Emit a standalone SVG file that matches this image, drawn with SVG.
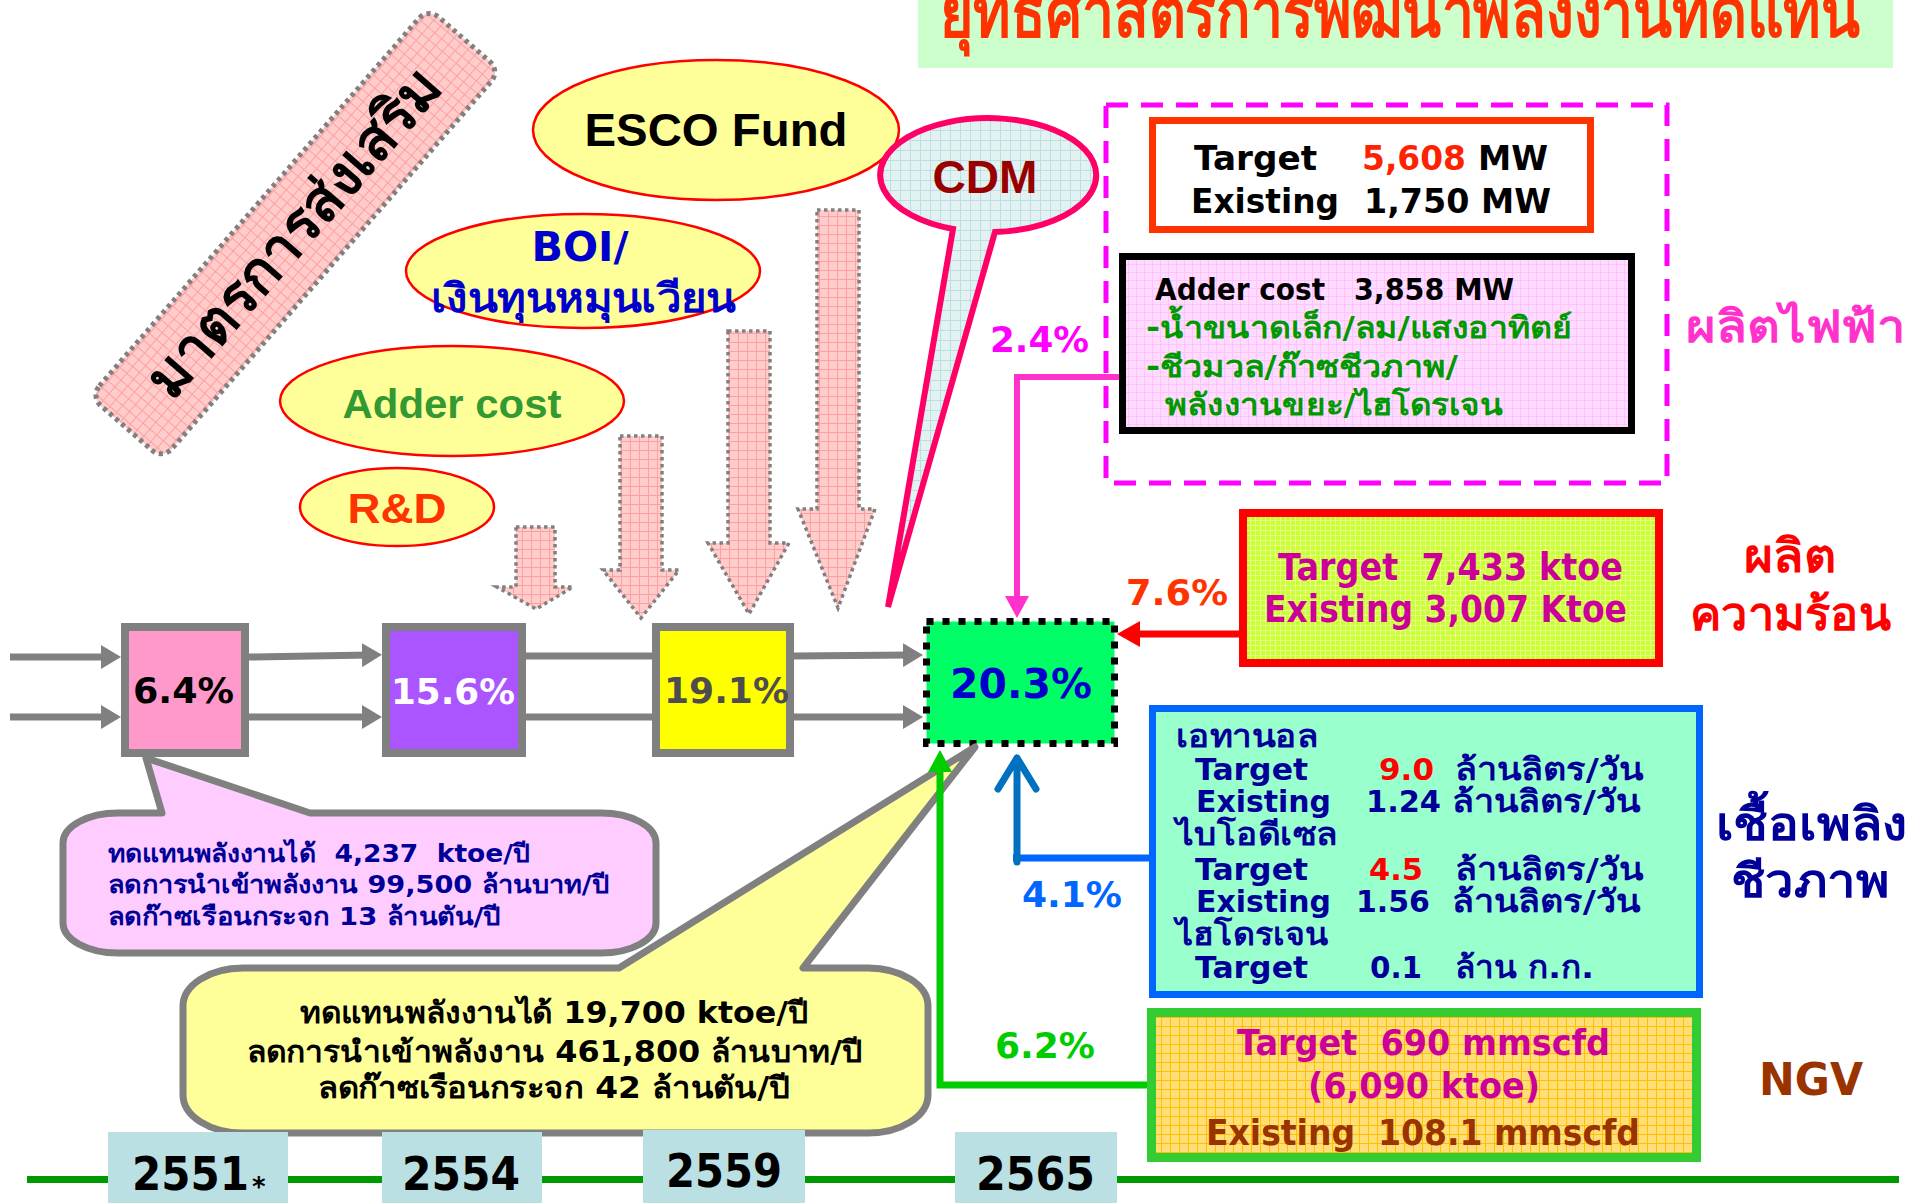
<svg xmlns="http://www.w3.org/2000/svg" width="1926" height="1203" viewBox="0 0 1926 1203">
<style>
.b{font-family:"DejaVu Sans","Noto Sans",sans-serif;font-weight:bold}
.a{font-family:"Liberation Sans",Arial,sans-serif;font-weight:bold}
.t{font-family:"DejaVu Sans","Noto Sans",sans-serif;font-weight:bold}
.pre{white-space:pre}
.flow{fill:none;stroke:#808080;stroke-width:7}
.pbox{stroke:#808080;stroke-width:8}
.ell{fill:#ffff99;stroke:#ff0000;stroke-width:2.5}
.darr{fill:url(#pgrid);stroke:#808080;stroke-width:3.5;stroke-dasharray:3.5 3.5}
.yr{fill:#bbe0e3}
</style>
<defs>
<pattern id="pgrid" width="9" height="9" patternUnits="userSpaceOnUse"><rect width="9" height="9" fill="#ffcccc"/><path d="M0 0.5H9M0.5 0V9" stroke="#ff9f9f" stroke-width="1"/></pattern>
<pattern id="bgrid" width="10" height="10" patternUnits="userSpaceOnUse"><rect width="10" height="10" fill="#e2f2f2"/><path d="M0 0.5H10M0.5 0V10" stroke="#bcdede" stroke-width="1"/></pattern>
<pattern id="lgrid" width="8" height="8" patternUnits="userSpaceOnUse"><rect width="8" height="8" fill="#ffdcff"/><path d="M0 0.5H8M0.5 0V8" stroke="#ffc2ff" stroke-width="1"/></pattern>
<pattern id="ggrid" width="5" height="5" patternUnits="userSpaceOnUse"><rect width="5" height="5" fill="#ccff33"/><path d="M0 0.5H5M0.5 0V5" stroke="#e2ff88" stroke-width="1"/></pattern>
<pattern id="ogrid" width="9" height="9" patternUnits="userSpaceOnUse"><rect width="9" height="9" fill="#ffdd77"/><path d="M0 0.5H9M0.5 0V9" stroke="#ffc000" stroke-width="1"/></pattern>
<marker id="mg" markerUnits="userSpaceOnUse" markerWidth="20" markerHeight="24" refX="8" refY="12" orient="auto"><path d="M0 0L20 12L0 24Z" fill="#808080"/></marker>
<marker id="mm" markerUnits="userSpaceOnUse" markerWidth="22" markerHeight="24" refX="8" refY="12" orient="auto"><path d="M0 0L22 12L0 24Z" fill="#ff33cc"/></marker>
<marker id="mr" markerUnits="userSpaceOnUse" markerWidth="23" markerHeight="26" refX="8" refY="13" orient="auto"><path d="M0 0L23 13L0 26Z" fill="#ff0000"/></marker>
<marker id="mgr" markerUnits="userSpaceOnUse" markerWidth="22" markerHeight="24" refX="8" refY="12" orient="auto"><path d="M0 0L22 12L0 24Z" fill="#00cc00"/></marker>
</defs>
<rect width="1926" height="1203" fill="#ffffff"/>

<g id="title">
<rect x="918" y="0" width="975" height="68" fill="#ccffcc"/>
<text class="t" x="940" y="37" font-size="70" fill="#ff3300" textLength="920" lengthAdjust="spacingAndGlyphs">ยุทธศาสตร์การพัฒนาพลังงานทดแทน</text>
</g>

<g id="measures" transform="translate(295,234) rotate(-49)">
<rect x="-257" y="-48" width="515" height="96" rx="14" fill="url(#pgrid)" stroke="#808080" stroke-width="5" stroke-dasharray="4 4"/>
<text class="t" x="0" y="18" font-size="58" text-anchor="middle" fill="#000000" textLength="415" lengthAdjust="spacingAndGlyphs">มาตรการส่งเสริม</text>
</g>

<g id="down-arrows">
<path class="darr" d="M516 527H555V587H573L536 609L497 587H516Z"/>
<path class="darr" d="M620 436H662V570H679L641 618L603 570H620Z"/>
<path class="darr" d="M728 331H770V543H789L749 614L708 543H728Z"/>
<path class="darr" d="M817 210H859V509H875L838 608L798 509H817Z"/>
</g>

<g id="esco"><ellipse class="ell" cx="716" cy="130" rx="183" ry="70"/><text class="a" x="716" y="146" font-size="46" text-anchor="middle" fill="#000000" textLength="263" lengthAdjust="spacingAndGlyphs">ESCO Fund</text></g>
<g id="boi"><ellipse class="ell" cx="583" cy="271" rx="177" ry="57"/><text class="b" x="580" y="261" font-size="41" text-anchor="middle" fill="#0000cc" textLength="97" lengthAdjust="spacingAndGlyphs">BOI/</text><text class="t" x="583" y="312" font-size="40" text-anchor="middle" fill="#0000cc" textLength="305" lengthAdjust="spacingAndGlyphs">เงินทุนหมุนเวียน</text></g>
<g id="adder"><ellipse class="ell" cx="452" cy="401" rx="172" ry="55"/><text class="a" x="452" y="418" font-size="41" text-anchor="middle" fill="#339933" textLength="219" lengthAdjust="spacingAndGlyphs">Adder cost</text></g>
<g id="rd"><ellipse class="ell" cx="397" cy="507" rx="97" ry="39"/><text class="a" x="397" y="523" font-size="43" text-anchor="middle" fill="#ff3300" textLength="99" lengthAdjust="spacingAndGlyphs">R&amp;D</text></g>

<g id="cdm">
<path d="M995 232A108 57 0 1 0 953 229L888 607Z" fill="url(#bgrid)" stroke="#ff0066" stroke-width="6" stroke-linejoin="miter"/>
<text class="a" x="985" y="193" font-size="46" text-anchor="middle" fill="#990000" textLength="105" lengthAdjust="spacingAndGlyphs">CDM</text>
</g>

<g id="box-2551"><rect class="pbox" x="125" y="627" width="120" height="126" fill="#ff99cc"/><text class="b" x="133" y="703" font-size="36" fill="#000000" textLength="101" lengthAdjust="spacingAndGlyphs">6.4%</text></g>
<g id="box-2554"><rect class="pbox" x="386" y="627" width="136" height="126" fill="#aa55ff"/><text class="b" x="391" y="704" font-size="36" fill="#ffffff" textLength="124" lengthAdjust="spacingAndGlyphs">15.6%</text></g>
<g id="box-2559"><rect class="pbox" x="656" y="627" width="134" height="126" fill="#ffff00"/><text class="b" x="664" y="703" font-size="36" fill="#4d4d4d" textLength="125" lengthAdjust="spacingAndGlyphs">19.1%</text></g>
<g id="box-2565"><rect x="926.5" y="621.5" width="188" height="122" fill="#00ff66" stroke="#000000" stroke-width="7" stroke-dasharray="7 9"/><text class="b" x="950" y="698" font-size="41" fill="#0000cc" textLength="142" lengthAdjust="spacingAndGlyphs">20.3%</text></g>

<g id="callout-2551">
<path d="M118 813L162 813L146 758L310 813L601 813A55 30 0 0 1 656 843L656 923A55 30 0 0 1 601 953L118 953A55 30 0 0 1 63 923L63 843A55 30 0 0 1 118 813Z" fill="#ffccff" stroke="#808080" stroke-width="7" stroke-linejoin="round"/>
<text class="t pre" x="108" y="862" font-size="25" fill="#000099" textLength="422" lengthAdjust="spacingAndGlyphs">ทดแทนพลังงานได้  4,237  ktoe/ปี</text>
<text class="t" x="108" y="893" font-size="25" fill="#000099" textLength="501" lengthAdjust="spacingAndGlyphs">ลดการนำเข้าพลังงาน 99,500 ล้านบาท/ปี</text>
<text class="t" x="108" y="925" font-size="25" fill="#000099" textLength="393" lengthAdjust="spacingAndGlyphs">ลดก๊าซเรือนกระจก 13 ล้านตัน/ปี</text>
</g>

<g id="callout-2565">
<path d="M243 968L619 968L975 747L803 968L868 968A60 38 0 0 1 928 1006L928 1095A60 38 0 0 1 868 1133L243 1133A60 38 0 0 1 183 1095L183 1006A60 38 0 0 1 243 968Z" fill="#ffff99" stroke="#808080" stroke-width="7" stroke-linejoin="round"/>
<text class="t" x="300" y="1023" font-size="30" fill="#000000" textLength="508" lengthAdjust="spacingAndGlyphs">ทดแทนพลังงานได้ 19,700 ktoe/ปี</text>
<text class="t" x="247" y="1062" font-size="30" fill="#000000" textLength="615" lengthAdjust="spacingAndGlyphs">ลดการนำเข้าพลังงาน 461,800 ล้านบาท/ปี</text>
<text class="t" x="318" y="1098" font-size="30" fill="#000000" textLength="472" lengthAdjust="spacingAndGlyphs">ลดก๊าซเรือนกระจก 42 ล้านตัน/ปี</text>
</g>

<g id="electricity">
<rect x="1106" y="105" width="561" height="378" fill="none" stroke="#ff00ff" stroke-width="5" stroke-dasharray="22 13"/>
<rect x="1152.5" y="120.5" width="438" height="109" fill="#ffffff" stroke="#ff3300" stroke-width="7"/>
<text class="b" x="1194" y="170" font-size="34" fill="#000000" textLength="123" lengthAdjust="spacingAndGlyphs">Target</text>
<text class="b" x="1362" y="170" font-size="34" fill="#ff2200" textLength="104" lengthAdjust="spacingAndGlyphs">5,608</text>
<text class="b" x="1478" y="170" font-size="34" fill="#000000" textLength="70" lengthAdjust="spacingAndGlyphs">MW</text>
<text class="b" x="1191" y="213" font-size="34" fill="#000000" textLength="148" lengthAdjust="spacingAndGlyphs">Existing</text>
<text class="b" x="1364" y="213" font-size="34" fill="#000000" textLength="187" lengthAdjust="spacingAndGlyphs">1,750 MW</text>
<rect x="1122.5" y="256.5" width="509" height="174" fill="url(#lgrid)" stroke="#000000" stroke-width="7"/>
<text class="b" x="1155" y="300" font-size="30" fill="#000000" textLength="170" lengthAdjust="spacingAndGlyphs">Adder cost</text>
<text class="b" x="1354" y="300" font-size="30" fill="#000000" textLength="160" lengthAdjust="spacingAndGlyphs">3,858 MW</text>
<text class="t" x="1146" y="338" font-size="30" fill="#009900" textLength="426" lengthAdjust="spacingAndGlyphs">-น้ำขนาดเล็ก/ลม/แสงอาทิตย์</text>
<text class="t" x="1146" y="377" font-size="30" fill="#009900" textLength="312" lengthAdjust="spacingAndGlyphs">-ชีวมวล/ก๊าซชีวภาพ/</text>
<text class="t" x="1165" y="415" font-size="30" fill="#009900" textLength="338" lengthAdjust="spacingAndGlyphs">พลังงานขยะ/ไฮโดรเจน</text>
<text class="t" x="1686" y="342" font-size="44" fill="#ff33cc" textLength="220" lengthAdjust="spacingAndGlyphs">ผลิตไฟฟ้า</text>
</g>

<g id="heat">
<rect x="1243" y="513" width="416" height="150" fill="url(#ggrid)" stroke="#ff0000" stroke-width="8"/>
<text class="b pre" x="1278" y="580" font-size="37" fill="#cc0099" textLength="345" lengthAdjust="spacingAndGlyphs">Target  7,433 ktoe</text>
<text class="b" x="1264" y="622" font-size="37" fill="#cc0099" textLength="363" lengthAdjust="spacingAndGlyphs">Existing 3,007 Ktoe</text>
<text class="t" x="1790" y="572" font-size="46" text-anchor="middle" fill="#ff0000" textLength="92" lengthAdjust="spacingAndGlyphs">ผลิต</text>
<text class="t" x="1790" y="630" font-size="46" text-anchor="middle" fill="#ff0000" textLength="201" lengthAdjust="spacingAndGlyphs">ความร้อน</text>
</g>

<g id="biofuel">
<rect x="1152.5" y="708.5" width="547" height="286" fill="#99ffcc" stroke="#0066ff" stroke-width="7"/>
<g fill="#000099">
<text class="t" x="1176" y="747" font-size="31" textLength="142" lengthAdjust="spacingAndGlyphs">เอทานอล</text>
<text class="b" x="1195" y="780" font-size="31" textLength="113" lengthAdjust="spacingAndGlyphs">Target</text>
<text class="b" x="1379" y="780" font-size="31" fill="#ff0000" textLength="55" lengthAdjust="spacingAndGlyphs">9.0</text>
<text class="t" x="1455" y="780" font-size="31" textLength="188" lengthAdjust="spacingAndGlyphs">ล้านลิตร/วัน</text>
<text class="b" x="1196" y="812" font-size="31" textLength="135" lengthAdjust="spacingAndGlyphs">Existing</text>
<text class="b" x="1366" y="812" font-size="31" textLength="75" lengthAdjust="spacingAndGlyphs">1.24</text>
<text class="t" x="1452" y="812" font-size="31" textLength="188" lengthAdjust="spacingAndGlyphs">ล้านลิตร/วัน</text>
<text class="t" x="1176" y="845" font-size="31" textLength="162" lengthAdjust="spacingAndGlyphs">ไบโอดีเซล</text>
<text class="b" x="1195" y="880" font-size="31" textLength="113" lengthAdjust="spacingAndGlyphs">Target</text>
<text class="b" x="1369" y="880" font-size="31" fill="#ff0000" textLength="54" lengthAdjust="spacingAndGlyphs">4.5</text>
<text class="t" x="1455" y="880" font-size="31" textLength="188" lengthAdjust="spacingAndGlyphs">ล้านลิตร/วัน</text>
<text class="b" x="1196" y="912" font-size="31" textLength="135" lengthAdjust="spacingAndGlyphs">Existing</text>
<text class="b" x="1356" y="912" font-size="31" textLength="74" lengthAdjust="spacingAndGlyphs">1.56</text>
<text class="t" x="1452" y="912" font-size="31" textLength="188" lengthAdjust="spacingAndGlyphs">ล้านลิตร/วัน</text>
<text class="t" x="1176" y="945" font-size="31" textLength="152" lengthAdjust="spacingAndGlyphs">ไฮโดรเจน</text>
<text class="b" x="1195" y="978" font-size="31" textLength="113" lengthAdjust="spacingAndGlyphs">Target</text>
<text class="b" x="1370" y="978" font-size="31" textLength="52" lengthAdjust="spacingAndGlyphs">0.1</text>
<text class="t" x="1455" y="978" font-size="31" textLength="139" lengthAdjust="spacingAndGlyphs">ล้าน ก.ก.</text>
<text class="t" x="1811" y="840" font-size="46" text-anchor="middle" textLength="191" lengthAdjust="spacingAndGlyphs">เชื้อเพลิง</text>
<text class="t" x="1810" y="897" font-size="46" text-anchor="middle" textLength="158" lengthAdjust="spacingAndGlyphs">ชีวภาพ</text>
</g>
</g>

<g id="ngv">
<rect x="1151.5" y="1012.5" width="545" height="145" fill="url(#ogrid)" stroke="#33cc33" stroke-width="9"/>
<text class="b pre" x="1237" y="1055" font-size="36" fill="#cc0099" textLength="373" lengthAdjust="spacingAndGlyphs">Target  690 mmscfd</text>
<text class="b" x="1308" y="1098" font-size="36" fill="#cc0099" textLength="232" lengthAdjust="spacingAndGlyphs">(6,090 ktoe)</text>
<text class="b pre" x="1206" y="1145" font-size="36" fill="#993300" textLength="434" lengthAdjust="spacingAndGlyphs">Existing  108.1 mmscfd</text>
<text class="b" x="1759" y="1095" font-size="45" fill="#993300" textLength="104" lengthAdjust="spacingAndGlyphs">NGV</text>
</g>

<g id="timeline">
<rect x="27" y="1176" width="1872" height="7" fill="#009900"/>
<rect class="yr" x="108" y="1132" width="180" height="71"/>
<rect class="yr" x="382" y="1132" width="160" height="71"/>
<rect class="yr" x="643" y="1130" width="162" height="73"/>
<rect class="yr" x="955" y="1132" width="162" height="71"/>
<text class="b" x="132" y="1190" font-size="47" fill="#000000" textLength="117" lengthAdjust="spacingAndGlyphs">2551</text>
<text class="b" x="252" y="1196" font-size="26" fill="#000000">*</text>
<text class="b" x="402" y="1190" font-size="47" fill="#000000" textLength="118" lengthAdjust="spacingAndGlyphs">2554</text>
<text class="b" x="666" y="1187" font-size="47" fill="#000000" textLength="116" lengthAdjust="spacingAndGlyphs">2559</text>
<text class="b" x="976" y="1190" font-size="47" fill="#000000" textLength="119" lengthAdjust="spacingAndGlyphs">2565</text>
</g>

<g id="connectors">
<path class="flow" d="M10 657H109" marker-end="url(#mg)"/>
<path class="flow" d="M10 717H109" marker-end="url(#mg)"/>
<path class="flow" d="M249 657L370 655" marker-end="url(#mg)"/>
<path class="flow" d="M249 717H370" marker-end="url(#mg)"/>
<path class="flow" d="M526 656H652"/>
<path class="flow" d="M526 717H652"/>
<path class="flow" d="M794 656L911 655" marker-end="url(#mg)"/>
<path class="flow" d="M794 717H911" marker-end="url(#mg)"/>
<path d="M1119 377H1017V604" fill="none" stroke="#ff33cc" stroke-width="6" marker-end="url(#mm)"/>
<path d="M1239 634H1132" fill="none" stroke="#ff0000" stroke-width="7" marker-end="url(#mr)"/>
<path d="M1149 858H1013" fill="none" stroke="#0066ff" stroke-width="7"/>
<path d="M1017 862V758M998 789L1017 758L1036 789" fill="none" stroke="#0070c0" stroke-width="7" stroke-linecap="round" stroke-linejoin="round"/>
<path d="M1147 1085H940V764" fill="none" stroke="#00cc00" stroke-width="7" marker-end="url(#mgr)"/>
<text class="b" x="990" y="352" font-size="35" fill="#ff00ff" textLength="99" lengthAdjust="spacingAndGlyphs">2.4%</text>
<text class="b" x="1126" y="605" font-size="35" fill="#ff3300" textLength="102" lengthAdjust="spacingAndGlyphs">7.6%</text>
<text class="b" x="1022" y="907" font-size="35" fill="#0066ff" textLength="100" lengthAdjust="spacingAndGlyphs">4.1%</text>
<text class="b" x="995" y="1058" font-size="35" fill="#00cc00" textLength="100" lengthAdjust="spacingAndGlyphs">6.2%</text>
</g>
</svg>
